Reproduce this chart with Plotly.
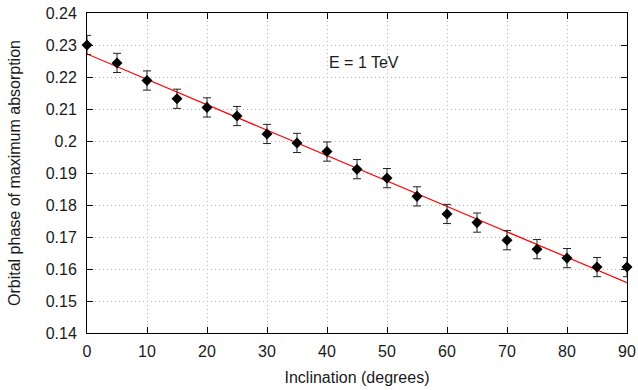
import plotly.graph_objects as go

inclination = [0, 5, 10, 15, 20, 25, 30, 35, 40, 45, 50, 55, 60, 65, 70, 75, 80, 85, 90]
phase = [0.2300, 0.2244, 0.2189, 0.2132, 0.2105, 0.2078, 0.2022, 0.1994, 0.1967, 0.1912,
         0.1884, 0.1827, 0.1772, 0.1745, 0.1690, 0.1662, 0.1634, 0.1606, 0.1606]
phase_err = [0.003] * len(inclination)
fit_intercept = 0.2272
fit_slope = -0.000794
y_ticks = [0.14, 0.15, 0.16, 0.17, 0.18, 0.19, 0.20, 0.21, 0.22, 0.23, 0.24]
y_tick_labels = ["0.14", "0.15", "0.16", "0.17", "0.18", "0.19", "0.2", "0.21", "0.22", "0.23", "0.24"]
x_ticks = [0, 10, 20, 30, 40, 50, 60, 70, 80, 90]

fit_x = [inclination[0], inclination[-1]]
fit_y = [fit_intercept + fit_slope * v for v in fit_x]

font = dict(family="Liberation Sans, Arial, sans-serif", size=16, color="#1a1a1a")

fig = go.Figure()
fig.add_trace(go.Scatter(
    x=fit_x, y=fit_y, mode="lines",
    line=dict(color="#ff0000", width=1.2), showlegend=False))
fig.add_trace(go.Scatter(
    x=inclination, y=phase, mode="markers",
    marker=dict(symbol="diamond", size=8.5, color="#000000"),
    error_y=dict(type="data", array=phase_err, visible=True, color="#222222",
                 thickness=1, width=4),
    showlegend=False, cliponaxis=False))

fig.add_annotation(x=40, y=0.2246, text="E = 1 TeV", showarrow=False,
                   xanchor="left", yanchor="middle", font=font)

axis_common = dict(
    showline=True, linecolor="#000000", linewidth=1, mirror="ticks",
    ticks="inside", ticklen=6, tickcolor="#000000", tickwidth=1,
    showgrid=True, gridcolor="#b4b4b4", griddash="1px,3px", gridwidth=1,
    zeroline=False, tickfont=font, automargin=False,
)

fig.update_layout(
    width=638, height=390,
    margin=dict(l=87, r=11, t=13, b=57),
    paper_bgcolor="white", plot_bgcolor="white",
    font=font,
    xaxis=dict(range=[0, 90], tickvals=x_ticks, ticklabelstandoff=4,
               title=dict(text="Inclination (degrees)", font=font, standoff=12),
               **axis_common),
    yaxis=dict(range=[0.14, 0.24], tickvals=y_ticks, ticktext=y_tick_labels,
               ticklabelstandoff=6,
               title=dict(text="Orbital phase of maximum absorption", font=font, standoff=21),
               **axis_common),
)

fig.write_html("out.html", config={"displayModeBar": False},
               post_script="document.body.style.margin='0';")
